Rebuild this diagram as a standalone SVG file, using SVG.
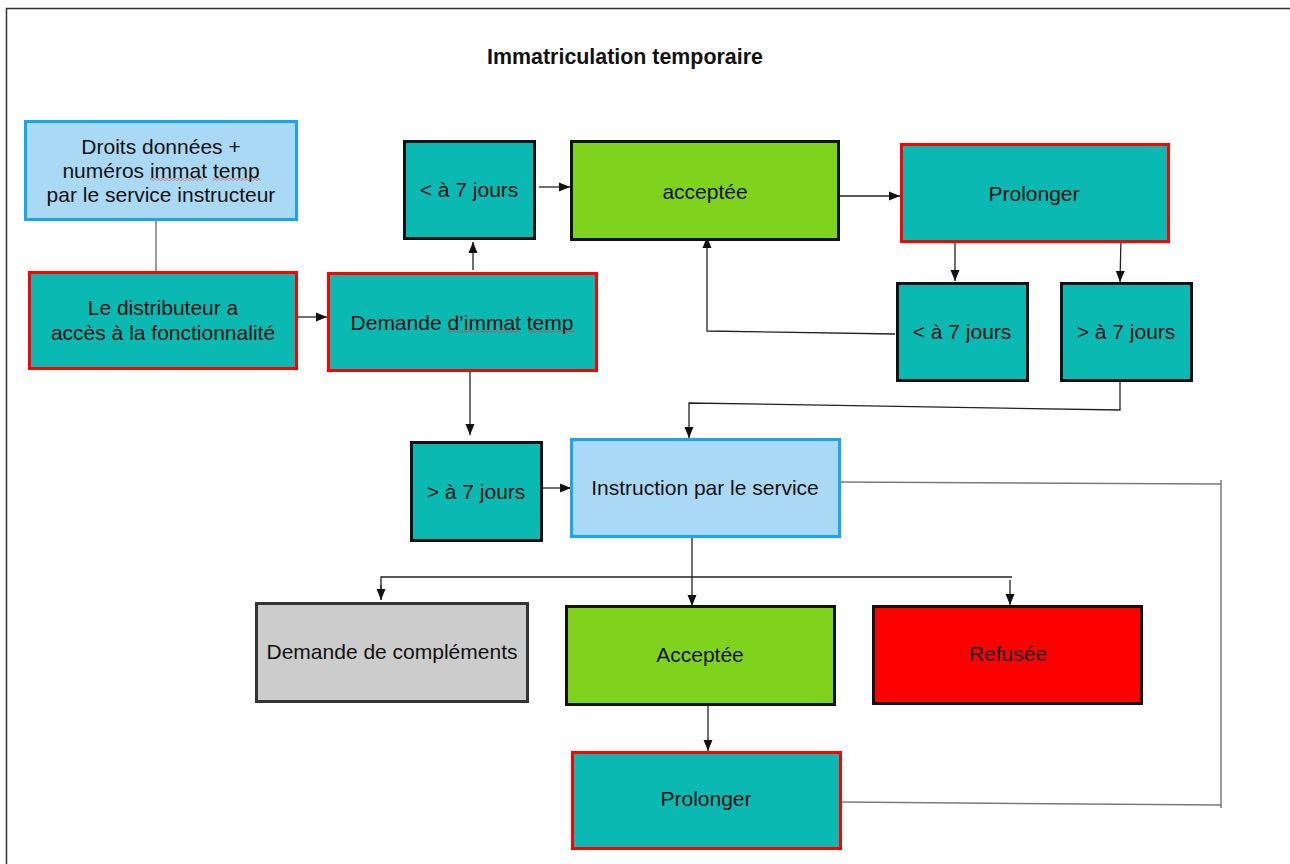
<svg xmlns="http://www.w3.org/2000/svg" width="1290" height="864" viewBox="0 0 1290 864">
<style>
text{font-family:"Liberation Sans",Arial,sans-serif;font-size:21px;fill:#111;text-anchor:middle}
.title{font-weight:bold;font-size:21.4px}
.teal{fill:#0bb9b3}
.lb{fill:#aad9f5;stroke:#1aa5f4;stroke-width:3}
.rd{stroke:#ff0000;stroke-width:3}
.bk{stroke:#111;stroke-width:3}
.grn{fill:#80d31c}
.gry{fill:#cccccc;stroke:#333;stroke-width:3}
.red{fill:#ff0000}
.c{fill:none;stroke:#222;stroke-width:1.3}
.g{fill:none;stroke:#7a7a7a;stroke-width:1.5}
</style>
<defs>
<marker id="ar" markerWidth="12" markerHeight="10" refX="11" refY="5" orient="auto" markerUnits="userSpaceOnUse">
<path d="M0,0.5 L11,5 L0,9.5 Z" fill="#111"/>
</marker>
<pattern id="sq" width="4" height="3" patternUnits="userSpaceOnUse">
<path d="M0,1.5 L1,0.5 L3,2.5 L4,1.5" fill="none" stroke="#e83030" stroke-width="0.9"/>
</pattern>
</defs>
<rect width="1290" height="864" fill="#fff"/>
<rect x="6.5" y="8.5" width="1320" height="900" fill="none" stroke="#333" stroke-width="1.5"/>
<text class="title" x="625" y="64">Immatriculation temporaire</text>

<g id="connectors">
<line class="g" x1="156" y1="220" x2="156" y2="272"/>
<line class="c" x1="297" y1="317" x2="327" y2="317" marker-end="url(#ar)"/>
<line class="c" x1="473" y1="270" x2="473" y2="242" marker-end="url(#ar)"/>
<line class="c" x1="539" y1="187" x2="570" y2="187" marker-end="url(#ar)"/>
<line class="c" x1="840" y1="196" x2="900" y2="196" marker-end="url(#ar)"/>
<line class="c" x1="955" y1="243" x2="955" y2="281" marker-end="url(#ar)"/>
<line class="c" x1="1121" y1="238" x2="1120" y2="282" marker-end="url(#ar)"/>
<polyline class="c" points="895,334 707,331 707,237" marker-end="url(#ar)"/>
<polyline class="c" points="1120,381 1120,410 689,403 689,438" marker-end="url(#ar)"/>
<line class="c" x1="470" y1="371" x2="470" y2="435" marker-end="url(#ar)"/>
<line class="c" x1="543" y1="488" x2="571" y2="488" marker-end="url(#ar)"/>
<polyline class="g" points="840,482 1221,484"/>
<line class="g" x1="1221" y1="480" x2="1221" y2="808"/>
<polyline class="g" points="842,802 1221,805"/>
<line class="c" x1="692" y1="537" x2="692" y2="606" marker-end="url(#ar)"/>
<polyline class="c" points="381,599 381,577 1012,577"/>
<line class="c" x1="381" y1="585" x2="381" y2="600" marker-end="url(#ar)"/>
<line class="c" x1="1010" y1="580" x2="1010" y2="605" marker-end="url(#ar)"/>
<line class="c" x1="708" y1="706" x2="708" y2="751" marker-end="url(#ar)"/>
</g>

<g id="droits">
<rect class="lb" x="25.5" y="121.5" width="271" height="98"/>
<text x="161" y="154">Droits données +</text>
<text x="161" y="178">numéros immat temp</text>
<text x="161" y="202">par le service instructeur</text>
<rect x="150" y="178" width="53" height="3" fill="url(#sq)"/>
<rect x="213" y="178" width="48" height="3" fill="url(#sq)"/>
</g>

<g id="distributeur">
<rect class="teal rd" x="29.5" y="272.5" width="267" height="96"/>
<text x="163" y="315">Le distributeur a</text>
<text x="163" y="340">accès à la fonctionnalité</text>
</g>

<g id="demande">
<rect class="teal rd" x="328.5" y="273.5" width="268" height="97"/>
<text x="462" y="330">Demande d’immat temp</text>
<rect x="448" y="330" width="72" height="3" fill="url(#sq)"/>
<rect x="528" y="330" width="47" height="3" fill="url(#sq)"/>
</g>

<g id="inf7a">
<rect class="teal bk" x="404.5" y="141.5" width="130" height="97"/>
<text x="469" y="197">&lt; à 7 jours</text>
</g>

<g id="acceptee1">
<rect class="grn bk" x="571.5" y="141.5" width="267" height="98"/>
<text x="705" y="199">acceptée</text>
</g>

<g id="prolonger1">
<rect class="teal rd" x="901.5" y="144.5" width="267" height="97"/>
<text x="1034" y="201">Prolonger</text>
</g>

<g id="inf7b">
<rect class="teal bk" x="897.5" y="283.5" width="130" height="97"/>
<text x="962" y="339">&lt; à 7 jours</text>
</g>

<g id="sup7b">
<rect class="teal bk" x="1061.5" y="283.5" width="130" height="97"/>
<text x="1126" y="339">&gt; à 7 jours</text>
</g>

<g id="sup7a">
<rect class="teal bk" x="411.5" y="442.5" width="130" height="98"/>
<text x="476" y="499">&gt; à 7 jours</text>
</g>

<g id="instruction">
<rect class="lb" x="571.5" y="439.5" width="268" height="97"/>
<text x="705" y="495">Instruction par le service</text>
</g>

<g id="complements">
<rect class="gry" x="256.5" y="603.5" width="271" height="98"/>
<text x="392" y="659">Demande de compléments</text>
</g>

<g id="acceptee2">
<rect class="grn bk" x="566.5" y="606.5" width="268" height="98"/>
<text x="700" y="662">Acceptée</text>
</g>

<g id="refusee">
<rect class="red bk" x="873.5" y="606.5" width="268" height="97"/>
<text x="1008" y="661">Refusée</text>
</g>

<g id="prolonger2">
<rect class="teal rd" x="572.5" y="752.5" width="268" height="96"/>
<text x="706" y="806">Prolonger</text>
</g>
</svg>
